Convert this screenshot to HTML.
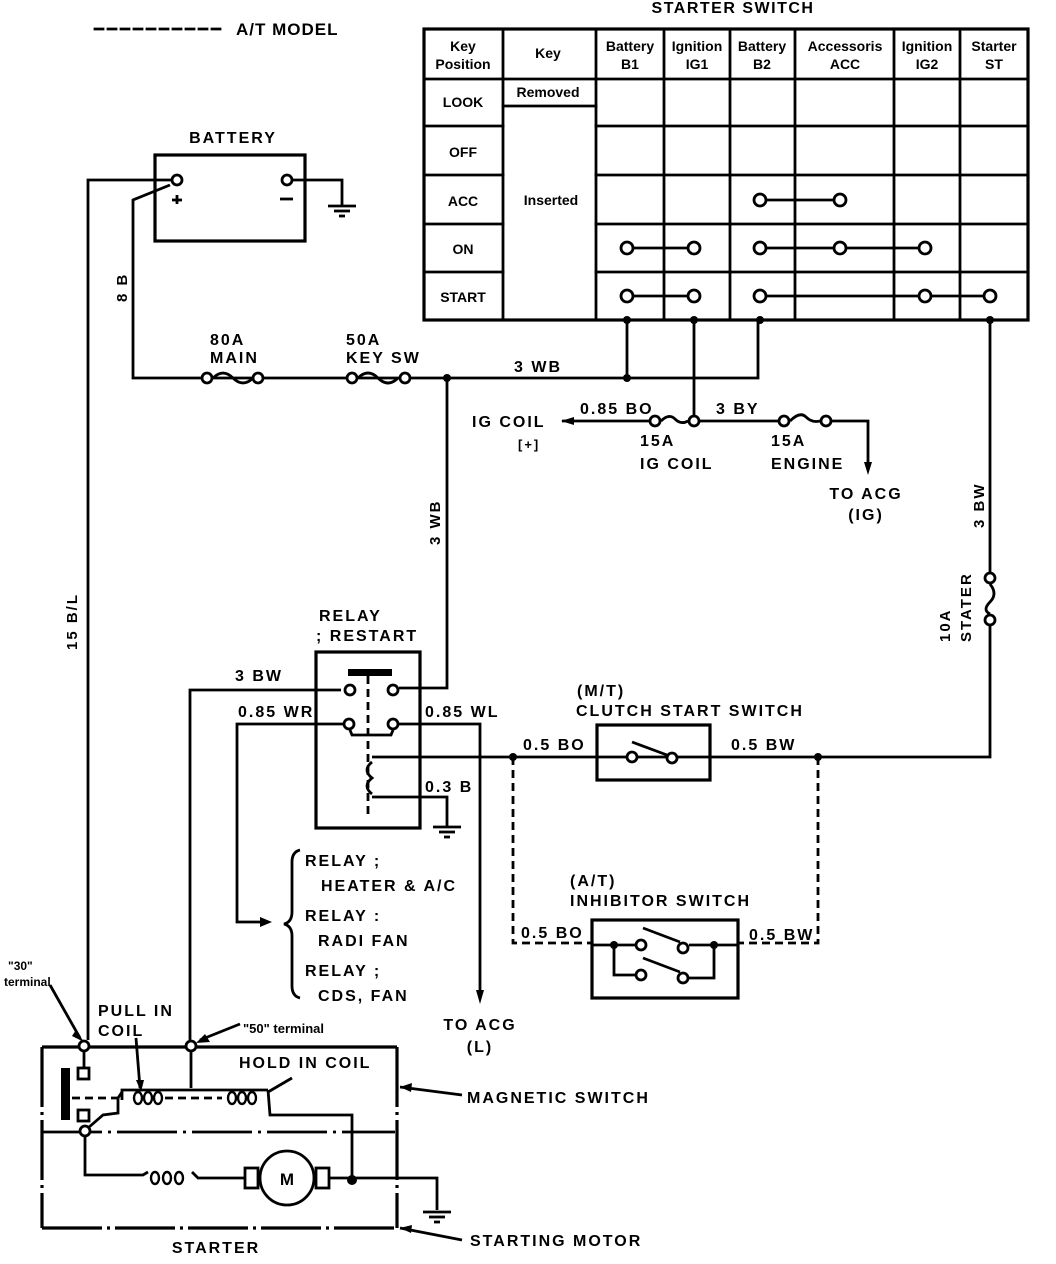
<!DOCTYPE html>
<html><head><meta charset="utf-8"><style>
html,body{margin:0;padding:0;background:#fff;}
svg{display:block;}
text{font-family:"Liberation Sans",sans-serif;font-weight:bold;fill:#000;}
</style></head><body>
<svg width="1056" height="1264" viewBox="0 0 1056 1264" xmlns="http://www.w3.org/2000/svg">
<g fill="none" stroke="#000" stroke-width="2.8" stroke-linecap="square">
<line x1="95" y1="29" x2="225" y2="29" stroke-dasharray="8,5"/>
<rect x="424" y="29" width="604" height="291" stroke-width="3.2"/>
<line x1="503" y1="29" x2="503" y2="320"/>
<line x1="596" y1="29" x2="596" y2="320"/>
<line x1="664" y1="29" x2="664" y2="320"/>
<line x1="730" y1="29" x2="730" y2="320"/>
<line x1="795" y1="29" x2="795" y2="320"/>
<line x1="894" y1="29" x2="894" y2="320"/>
<line x1="960" y1="29" x2="960" y2="320"/>
<line x1="424" y1="79" x2="1028" y2="79"/>
<line x1="424" y1="126" x2="503" y2="126"/><line x1="596" y1="126" x2="1028" y2="126"/>
<line x1="424" y1="175" x2="503" y2="175"/><line x1="596" y1="175" x2="1028" y2="175"/>
<line x1="424" y1="224" x2="503" y2="224"/><line x1="596" y1="224" x2="1028" y2="224"/>
<line x1="424" y1="272" x2="503" y2="272"/><line x1="596" y1="272" x2="1028" y2="272"/>
<line x1="503" y1="106" x2="596" y2="106"/>
<line x1="766" y1="200" x2="834" y2="200"/>
<line x1="633" y1="248" x2="688" y2="248"/>
<line x1="766" y1="248" x2="919" y2="248"/>
<line x1="633" y1="296" x2="688" y2="296"/>
<line x1="766" y1="296" x2="984" y2="296"/>
</g>
<g fill="#fff" stroke="#000" stroke-width="2.8">
<circle cx="760" cy="200" r="6"/><circle cx="840" cy="200" r="6"/>
<circle cx="627" cy="248" r="6"/><circle cx="694" cy="248" r="6"/>
<circle cx="760" cy="248" r="6"/><circle cx="840" cy="248" r="6"/><circle cx="925" cy="248" r="6"/>
<circle cx="627" cy="296" r="6"/><circle cx="694" cy="296" r="6"/>
<circle cx="760" cy="296" r="6"/><circle cx="925" cy="296" r="6"/><circle cx="990" cy="296" r="6"/>
</g>
<g fill="none" stroke="#000" stroke-width="2.8">
<polyline points="627,320 627,378"/>
<polyline points="758,320 758,378 133,378 133,200 170,185"/>
<polyline points="694,320 694,421"/>
<polyline points="990,320 990,572"/>
<polyline points="990,626 990,757 372,757"/>
<rect x="155" y="155" width="150" height="86" stroke-width="3.2"/>
<polyline points="172,180 88,180 88,1040"/>
<polyline points="293,180 342,180 342,205"/>
<line x1="328" y1="206" x2="356" y2="206"/><line x1="334" y1="211" x2="350" y2="211"/><line x1="339" y1="216" x2="345" y2="216"/>
<line x1="177" y1="195" x2="177" y2="204"/><line x1="172" y1="200" x2="182" y2="200"/>
<line x1="280" y1="199" x2="293" y2="199"/>
<path d="M213,378 q10,-10 20,0 t20,0"/>
<path d="M358,378 q10,-10 20,0 t20,0"/>
<polyline points="447,378 447,688 399,688"/>
<polyline points="562,421 649,421"/>
<path d="M661,421 q8,-8 14,-2 t13,2"/>
<polyline points="700,421 778,421"/>
<path d="M790,421 q10,-10 16,-4 t14,4"/>
<polyline points="832,421 868,421 868,465"/>
<path d="M990,584 q8,10 0,18 t0,12"/>
<rect x="316" y="652" width="104" height="176" stroke-width="3.2"/>
<line x1="368" y1="676" x2="368" y2="815" stroke-dasharray="8,5"/>
<polyline points="341,690 190,690 190,1040"/>
<polyline points="343,724 237,724 237,922 262,922"/>
<polyline points="399,724 480,724 480,992"/>
<polyline points="350,730 352,735 391,735 393,730"/>
<path d="M372,762 q-10,8 0,16 q-10,8 0,16"/>
<polyline points="372,797 447,797 447,826"/>
<line x1="433" y1="827" x2="461" y2="827"/><line x1="439" y1="832" x2="455" y2="832"/><line x1="444" y1="837" x2="450" y2="837"/>
<rect x="597" y="725" width="113" height="55" stroke-width="3.2"/>
<line x1="632" y1="742" x2="667" y2="755"/>
<polyline points="513,757 513,943 592,943" stroke-dasharray="8,5"/>
<polyline points="818,757 818,943 738,943" stroke-dasharray="8,5"/>
<rect x="592" y="920" width="146" height="78" stroke-width="3.2"/>
<polyline points="592,945 635,945"/><polyline points="689,945 738,945"/>
<polyline points="614,945 614,975 635,975"/><polyline points="689,978 714,978 714,945"/>
<line x1="643" y1="928" x2="680" y2="942"/>
<line x1="643" y1="958" x2="680" y2="972"/>
<path d="M300,850 q-8,2 -8,12 v50 q0,10 -8,12 q8,2 8,12 v50 q0,10 8,12"/>
<line x1="42" y1="1047" x2="397" y2="1047" stroke-width="3.2"/>
<line x1="42" y1="1047" x2="42" y2="1228" stroke-width="3.2" stroke-dasharray="60,5,3,5"/>
<line x1="397" y1="1047" x2="397" y2="1228" stroke-width="3.2" stroke-dasharray="60,5,3,5"/>
<line x1="42" y1="1228" x2="397" y2="1228" stroke-width="3.2" stroke-dasharray="60,5,3,5"/>
<line x1="42" y1="1132" x2="395" y2="1132" stroke-dasharray="60,6,3,6"/>
<line x1="84" y1="1052" x2="84" y2="1068"/>
<rect x="78" y="1068" width="11" height="11"/>
<rect x="78" y="1110" width="11" height="11"/>
<line x1="72" y1="1098" x2="120" y2="1098" stroke-dasharray="8,5"/>
<line x1="165" y1="1098" x2="222" y2="1098" stroke-dasharray="8,5"/>
<polyline points="191,1052 191,1088"/>
<polyline points="122,1100 122,1090 268,1090"/>
<polyline points="88,1128 103,1115 118,1113 118,1098 122,1092"/>
<polyline points="268,1090 270,1115 352,1115 352,1180"/>
<polyline points="85,1136 85,1175 143,1175 148,1172"/>
<polyline points="192,1172 198,1178 245,1178"/>
<rect x="245" y="1168" width="13" height="20"/>
<circle cx="287" cy="1178" r="27"/>
<rect x="316" y="1168" width="13" height="20"/>
<polyline points="329,1178 437,1178 437,1210"/>
<line x1="423" y1="1212" x2="451" y2="1212"/><line x1="429" y1="1217" x2="445" y2="1217"/><line x1="434" y1="1222" x2="440" y2="1222"/>
<g stroke-width="2.4">
<ellipse cx="138" cy="1098" rx="4" ry="6"/><ellipse cx="148" cy="1098" rx="4" ry="6"/><ellipse cx="158" cy="1098" rx="4" ry="6"/>
<ellipse cx="232" cy="1098" rx="4" ry="6"/><ellipse cx="242" cy="1098" rx="4" ry="6"/><ellipse cx="252" cy="1098" rx="4" ry="6"/>
<ellipse cx="155" cy="1178" rx="4" ry="6"/><ellipse cx="167" cy="1178" rx="4" ry="6"/><ellipse cx="179" cy="1178" rx="4" ry="6"/>
</g>
<line x1="50" y1="985" x2="80" y2="1038"/>
<line x1="240" y1="1024" x2="200" y2="1040"/>
<line x1="136" y1="1038" x2="140" y2="1088"/>
<line x1="292" y1="1078" x2="268" y2="1092"/>
<line x1="462" y1="1095" x2="400" y2="1087"/>
<line x1="462" y1="1240" x2="400" y2="1228"/>
</g>
<g fill="#000">
<polygon points="562,417 575,421 562,425" transform="rotate(180 568 421)"/>
<polygon points="864,462 872,462 868,475"/>
<polygon points="476,990 484,990 480,1004"/>
<polygon points="260,917 272,922 260,927"/>
<polygon points="76,1030 84,1042 72,1036"/>
<polygon points="205,1034 196,1043 210,1042"/>
<polygon points="136,1080 144,1080 141,1092"/>
<polygon points="400,1087 412,1083 411,1092"/>
<polygon points="400,1228 412,1225 411,1233"/>
<rect x="61" y="1068" width="9" height="52"/>
<rect x="348" y="669" width="44" height="7"/>
<circle cx="627" cy="320" r="4"/><circle cx="694" cy="320" r="4"/><circle cx="760" cy="320" r="4"/><circle cx="990" cy="320" r="4"/>
<circle cx="627" cy="378" r="4"/><circle cx="447" cy="378" r="4"/>
<circle cx="513" cy="757" r="4"/><circle cx="818" cy="757" r="4"/>
<circle cx="614" cy="945" r="4"/><circle cx="714" cy="945" r="4"/>
<circle cx="352" cy="1180" r="5"/>
</g>
<g fill="#fff" stroke="#000" stroke-width="2.8">
<circle cx="177" cy="180" r="5"/><circle cx="287" cy="180" r="5"/>
<circle cx="207" cy="378" r="5"/><circle cx="258" cy="378" r="5"/>
<circle cx="352" cy="378" r="5"/><circle cx="405" cy="378" r="5"/>
<circle cx="655" cy="421" r="5"/><circle cx="694" cy="421" r="5"/>
<circle cx="784" cy="421" r="5"/><circle cx="826" cy="421" r="5"/>
<circle cx="990" cy="578" r="5"/><circle cx="990" cy="620" r="5"/>
<circle cx="350" cy="690" r="5"/><circle cx="393" cy="690" r="5"/>
<circle cx="349" cy="724" r="5"/><circle cx="393" cy="724" r="5"/>
<circle cx="632" cy="757" r="5"/><circle cx="672" cy="758" r="5"/>
<circle cx="641" cy="945" r="5"/><circle cx="683" cy="948" r="5"/>
<circle cx="641" cy="975" r="5"/><circle cx="683" cy="978" r="5"/>
<circle cx="84" cy="1046" r="5"/><circle cx="191" cy="1046" r="5"/><circle cx="85" cy="1131" r="5"/>
</g>
<text x="236" y="35" font-size="17" letter-spacing="1">A/T MODEL</text>
<text x="733" y="13" font-size="16" text-anchor="middle" letter-spacing="1.5">STARTER SWITCH</text>
<g font-size="14" text-anchor="middle" font-weight="normal">
<text x="463" y="51">Key</text><text x="463" y="69">Position</text>
<text x="548" y="58">Key</text>
<text x="630" y="51">Battery</text><text x="630" y="69">B1</text>
<text x="697" y="51">Ignition</text><text x="697" y="69">IG1</text>
<text x="762" y="51">Battery</text><text x="762" y="69">B2</text>
<text x="845" y="51">Accessoris</text><text x="845" y="69">ACC</text>
<text x="927" y="51">Ignition</text><text x="927" y="69">IG2</text>
<text x="994" y="51">Starter</text><text x="994" y="69">ST</text>
<text x="463" y="107">LOOK</text><text x="463" y="157">OFF</text><text x="463" y="206">ACC</text>
<text x="463" y="254">ON</text><text x="463" y="302">START</text>
<text x="548" y="97">Removed</text><text x="551" y="205">Inserted</text>
</g>
<g font-size="16" letter-spacing="2">
<text x="233" y="143" text-anchor="middle">BATTERY</text>
<text x="210" y="345">80A</text><text x="210" y="363">MAIN</text>
<text x="346" y="345">50A</text><text x="346" y="363">KEY SW</text>
<text x="514" y="372">3 WB</text>
<text x="472" y="427">IG COIL</text><text x="518" y="449" font-size="13">[+]</text>
<text x="580" y="414">0.85 BO</text>
<text x="716" y="414">3 BY</text>
<text x="640" y="446">15A</text><text x="640" y="469">IG COIL</text>
<text x="771" y="446">15A</text><text x="771" y="469">ENGINE</text>
<text x="866" y="499" text-anchor="middle">TO ACG</text><text x="866" y="520" text-anchor="middle">(IG)</text>
<text x="319" y="621">RELAY</text><text x="316" y="641">; RESTART</text>
<text x="235" y="681">3 BW</text>
<text x="238" y="717">0.85 WR</text>
<text x="425" y="717">0.85 WL</text>
<text x="425" y="792">0.3 B</text>
<text x="523" y="750">0.5 BO</text>
<text x="731" y="750">0.5 BW</text>
<text x="577" y="696">(M/T)</text><text x="576" y="716">CLUTCH START SWITCH</text>
<text x="570" y="886">(A/T)</text><text x="570" y="906">INHIBITOR SWITCH</text>
<text x="521" y="938">0.5 BO</text><text x="749" y="940">0.5 BW</text>
<text x="305" y="866">RELAY ;</text><text x="321" y="891">HEATER &amp; A/C</text>
<text x="305" y="921">RELAY :</text><text x="318" y="946">RADI FAN</text>
<text x="305" y="976">RELAY ;</text><text x="318" y="1001">CDS, FAN</text>
<text x="480" y="1030" text-anchor="middle">TO ACG</text><text x="480" y="1052" text-anchor="middle">(L)</text>
<text x="98" y="1016">PULL IN</text><text x="98" y="1036">COIL</text>
<text x="239" y="1068">HOLD IN COIL</text>
<text x="467" y="1103">MAGNETIC SWITCH</text>
<text x="470" y="1246">STARTING MOTOR</text>
<text x="216" y="1253" text-anchor="middle">STARTER</text>
<text x="287" y="1185" text-anchor="middle" font-size="17" letter-spacing="0">M</text>
</g>
<g font-size="12">
<text x="8" y="970">"30"</text><text x="4" y="986">terminal</text>
<text x="243" y="1033" font-size="13">"50"  terminal</text>
</g>
<g font-size="15" letter-spacing="2">
<text transform="translate(127,302) rotate(-90)">8 B</text>
<text transform="translate(77,650) rotate(-90)">15 B/L</text>
<text transform="translate(440,545) rotate(-90)">3 WB</text>
<text transform="translate(984,528) rotate(-90)">3 BW</text>
<text transform="translate(971,642) rotate(-90)">STATER</text>
<text transform="translate(950,642) rotate(-90)">10A</text>
</g>
</svg>
</body></html>
